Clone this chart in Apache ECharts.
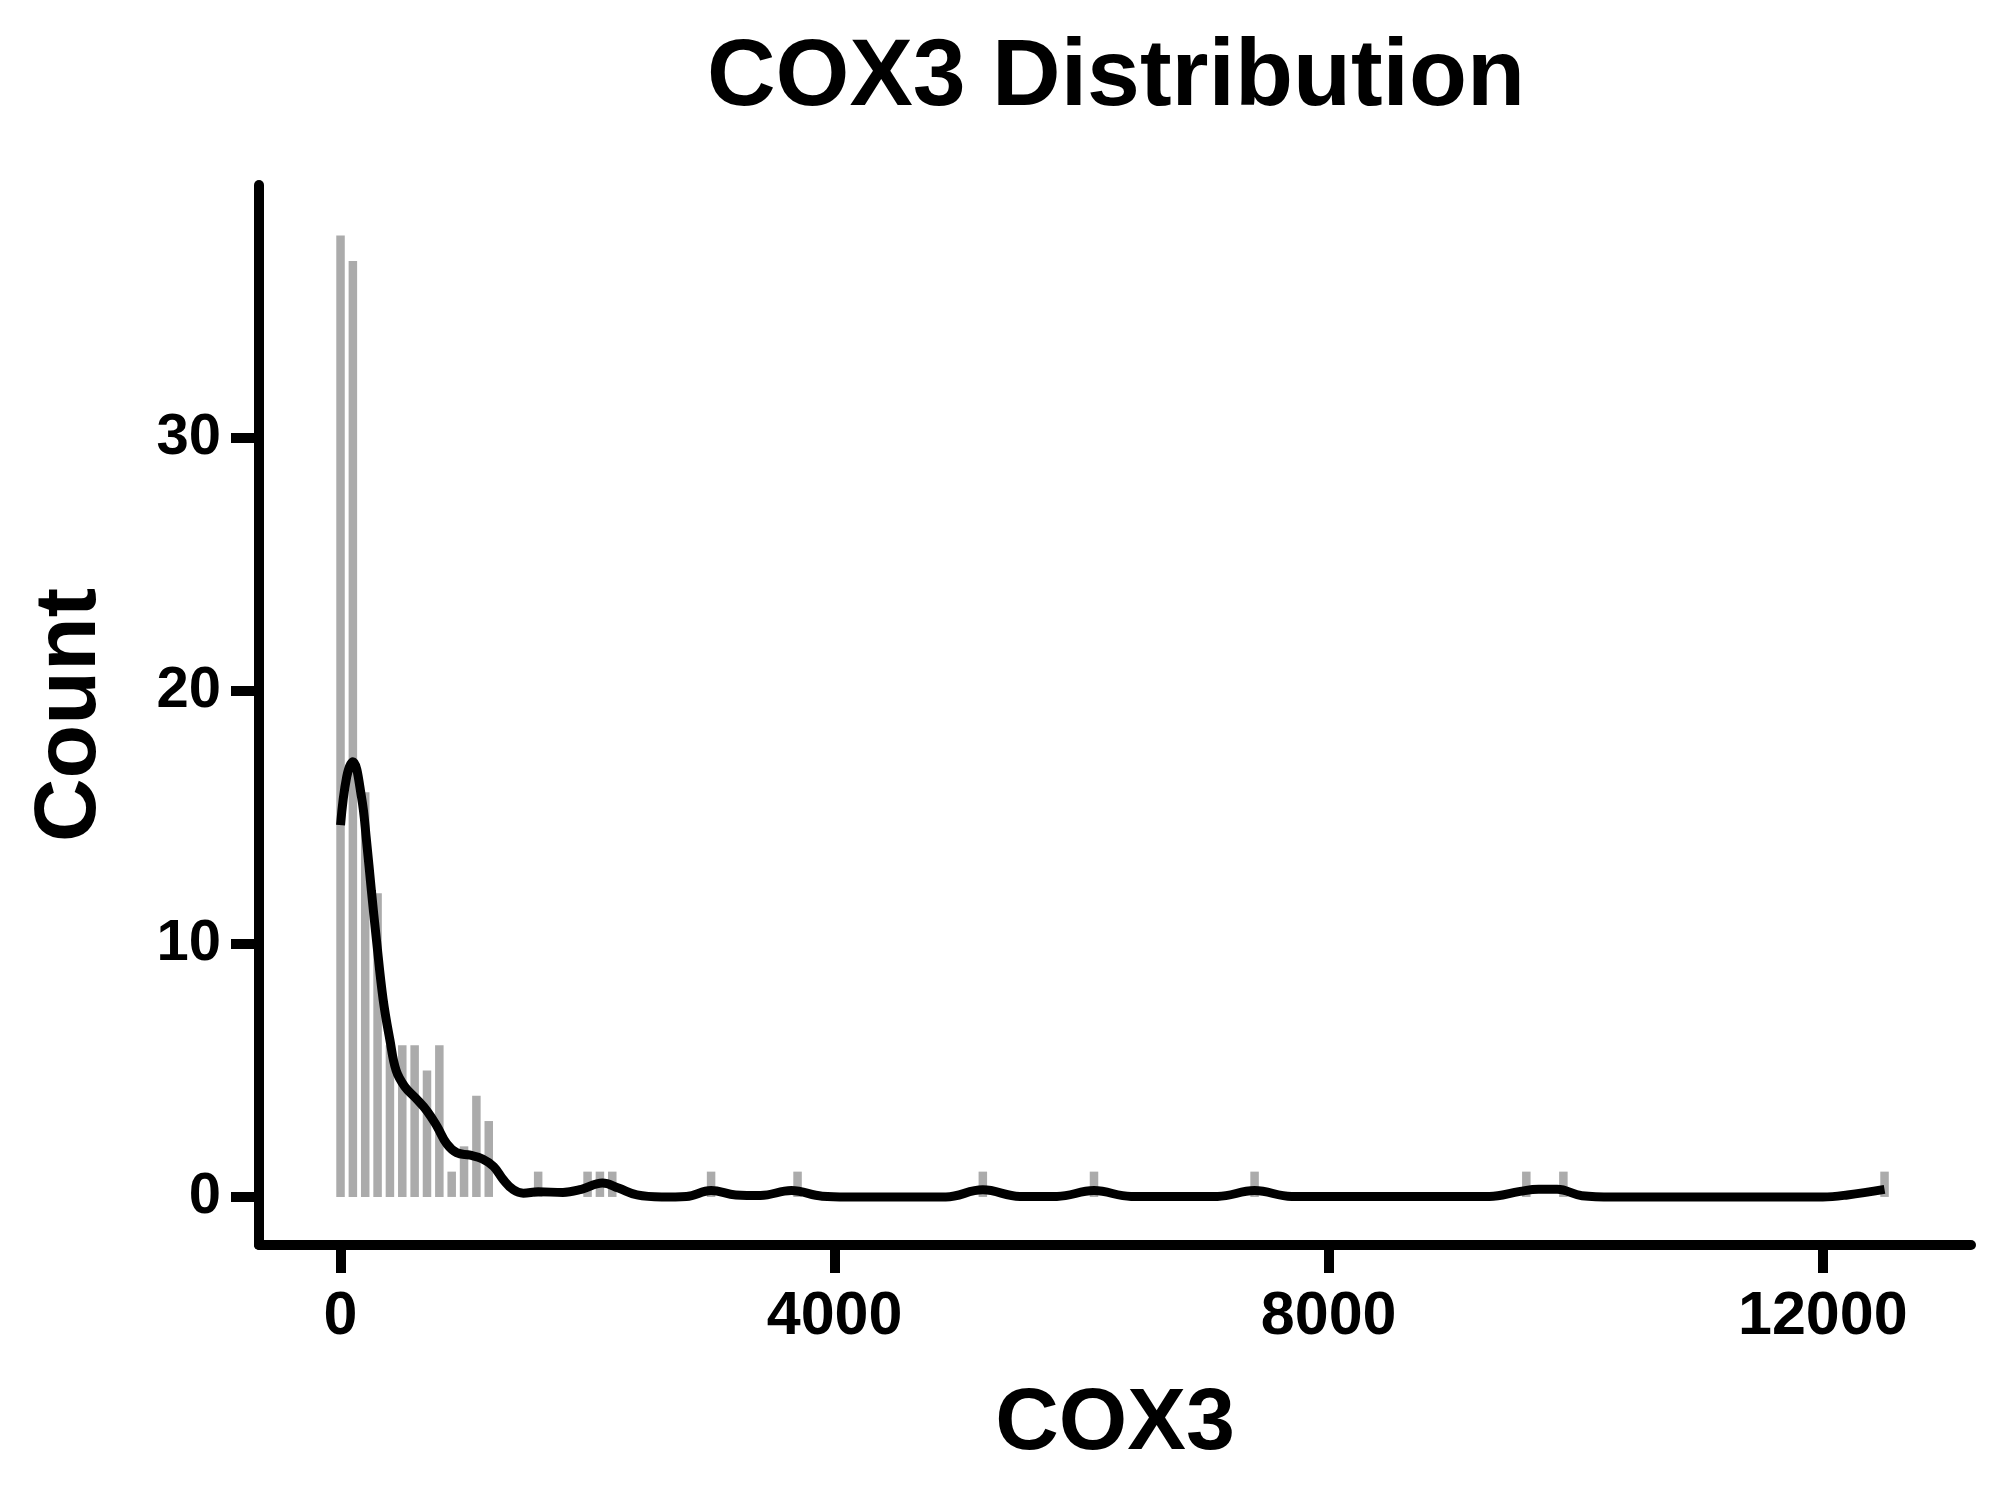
<!DOCTYPE html>
<html>
<head>
<meta charset="utf-8">
<script src="https://cdn.jsdelivr.net/npm/echarts@6/dist/echarts.min.js"></script>
<style>
  html, body { margin: 0; padding: 0; background: #fff; }
  #main { width: 2000px; height: 1500px; }
</style>
</head>
<body>
<div id="main"></div>
<script>
// 直方图: 组中心 (bin width 100) 和计数
var binCenters = [0, 100, 200, 300, 400, 500, 600, 700, 800, 900, 1000, 1100, 1200,
                  1600, 2000, 2100, 2200, 3000, 3700, 5200, 6100, 7400, 9600, 9900, 12500];
var counts = [38, 37, 16, 12, 6, 6, 6, 5, 6, 1, 2, 4, 3,
              1, 1, 1, 1, 1, 1, 1, 1, 1, 1, 1, 1];

// 平滑曲线
var curveX = [0, 50, 100, 170, 210, 250, 290, 345, 400, 450, 520, 610, 700, 780, 860, 940,
              1050, 1150, 1240, 1320, 1400, 1480, 1600, 1800, 1950, 2120, 2250, 2400, 2600,
              2800, 3000, 3200, 3400, 3650, 3900, 4100, 4900, 5200, 5500, 5800, 6100, 6400,
              7100, 7400, 7700, 9300, 9550, 9700, 9850, 10050, 10300, 12000, 12200, 12500];
var curveY = [14.7, 16.6, 17.2, 15.8, 14.1, 12.1, 10.2, 7.8, 6.2, 5.0, 4.36, 3.9, 3.4, 2.8, 2.1, 1.75,
              1.65, 1.5, 1.2, 0.67, 0.28, 0.15, 0.2, 0.18, 0.3, 0.55, 0.35, 0.08, 0.0,
              0.02, 0.25, 0.08, 0.06, 0.25, 0.03, 0.0, 0.0, 0.28, 0.02, 0.02, 0.25, 0.02,
              0.02, 0.25, 0.02, 0.02, 0.22, 0.3, 0.3, 0.05, 0.0, 0.0, 0.08, 0.3];

var xTicks = [0, 4000, 8000, 12000];
var yTicks = [0, 10, 20, 30];

var myChart = echarts.init(document.getElementById('main'));

var barData = binCenters.map(function (x, i) { return [x, counts[i]]; });
var lineData = curveX.map(function (x, i) { return [x, curveY[i]]; });

var fontFam = '"Liberation Sans", Arial, sans-serif';

option = {
    animation: false,
    backgroundColor: '#ffffff',
    title: {
        text: 'COX3 Distribution',
        left: 702,
        top: 26,
        textStyle: {
            fontFamily: fontFam,
            fontWeight: 'bold',
            fontSize: 95,
            color: '#000'
        }
    },
    grid: {
        left: 259,
        right: 29,
        top: 185,
        bottom: 255
    },
    xAxis: {
        type: 'value',
        min: -660,
        max: 13200,
        name: 'COX3',
        nameLocation: 'middle',
        nameGap: 136,
        nameTextStyle: {
            fontFamily: fontFam,
            fontWeight: 'bold',
            fontSize: 88,
            color: '#000'
        },
        splitLine: { show: false },
        axisLine: { show: true, onZero: false, lineStyle: { color: '#000', width: 10 } },
        axisTick: {
            show: true,
            customValues: xTicks,
            length: 28,
            lineStyle: { color: '#000', width: 10 }
        },
        axisLabel: {
            customValues: xTicks,
            margin: 42,
            formatter: function (v) { return String(v); },
            fontFamily: fontFam,
            fontWeight: 'bold',
            fontSize: 61,
            color: '#000'
        }
    },
    yAxis: {
        type: 'value',
        min: -1.9,
        max: 40,
        name: 'Count',
        nameLocation: 'middle',
        nameGap: 144,
        nameTextStyle: {
            fontFamily: fontFam,
            fontWeight: 'bold',
            fontSize: 88,
            color: '#000'
        },
        splitLine: { show: false },
        axisLine: { show: true, onZero: false, lineStyle: { color: '#000', width: 10 } },
        axisTick: {
            show: true,
            customValues: yTicks,
            length: 28,
            lineStyle: { color: '#000', width: 10 }
        },
        axisLabel: {
            customValues: yTicks,
            margin: 38,
            fontFamily: fontFam,
            fontWeight: 'bold',
            fontSize: 58,
            color: '#000'
        }
    },
    series: [
        {
            name: 'Count',
            type: 'bar',
            data: barData,
            barWidth: 8.5,
            itemStyle: { color: '#ababab' }
        },
        {
            name: 'KDE',
            type: 'line',
            data: lineData,
            smooth: 0.4,
            showSymbol: false,
            lineStyle: { color: '#000', width: 9 },
            z: 5
        }
    ]
};

myChart.setOption(option);
</script>
</body>
</html>
